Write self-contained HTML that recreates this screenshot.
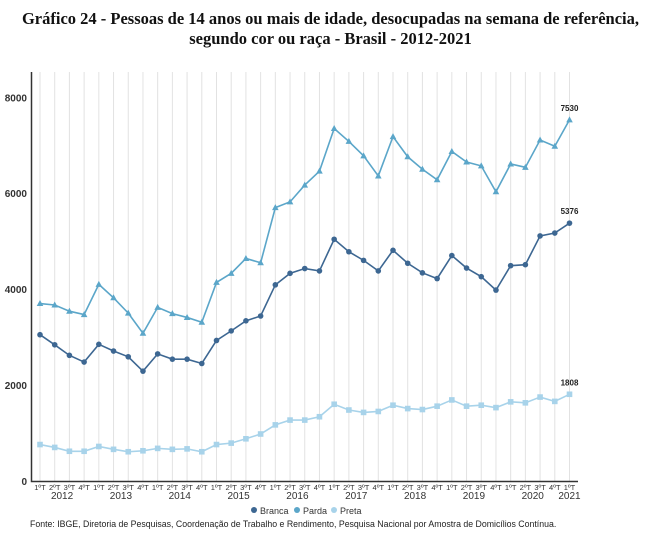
<!DOCTYPE html>
<html><head><meta charset="utf-8"><style>
body{margin:0;width:661px;height:535px;background:#fff;overflow:hidden;font-family:"Liberation Sans",sans-serif}
#title{position:absolute;left:0;top:9px;width:661px;text-align:center;font-family:"Liberation Serif",serif;font-weight:bold;font-size:16.5px;line-height:20px;color:#111}
svg{position:absolute;left:0;top:0}
</style></head><body>
<div id="title">Gráfico 24 - Pessoas de 14 anos ou mais de idade, desocupadas na semana de referência,<br>segundo cor ou raça - Brasil - 2012-2021</div>
<svg id="chart" width="661" height="535"></svg>
<script>
const years=["2012","2013","2014","2015","2016","2017","2018","2019","2020","2021"];
const quarters=["1ºT","2ºT","3ºT","4ºT"];
const yTicks=[0,2000,4000,6000,8000];
const branca=[3050,2840,2620,2480,2850,2710,2590,2290,2650,2540,2540,2450,2930,3130,3340,3440,4090,4330,4430,4380,5040,4780,4600,4380,4810,4540,4340,4220,4700,4440,4260,3980,4490,4510,5110,5170,5376];
const parda=[3700,3670,3540,3470,4100,3820,3500,3080,3620,3490,3410,3310,4140,4330,4640,4550,5700,5820,6170,6460,7350,7080,6780,6360,7180,6760,6500,6280,6870,6650,6570,6030,6610,6540,7110,6980,7530];
const preta=[760,700,620,620,720,660,610,630,680,660,670,610,760,790,880,980,1170,1270,1270,1340,1600,1480,1430,1450,1580,1510,1490,1560,1690,1560,1580,1530,1650,1630,1750,1660,1808];
const NS="http://www.w3.org/2000/svg";
const svg=document.getElementById('chart');
const n=branca.length;
const xS=i=>40+i*(569.5-40)/(n-1);
const yS=v=>481-v*(481-97.3)/8000;
function mk(t,a,p){const e=document.createElementNS(NS,t);for(const k in a)e.setAttribute(k,a[k]);(p||svg).appendChild(e);return e;}
for(let i=0;i<n;i++){
 const g=mk('line',{x1:xS(i),x2:xS(i),y1:72,y2:481,stroke:'#e2e2e2','stroke-width':1});
 
 
 const t=mk('text',{x:xS(i),y:490,'font-size':7.5,'text-anchor':'middle',fill:'#333'});
 t.textContent=quarters[i%4];
 
 
}
years.forEach((y,k)=>{
 const i0=k*4,i1=Math.min(k*4+3,n-1);
 const t=mk('text',{x:(xS(i0)+xS(i1))/2,y:499,'font-size':10,'text-anchor':'middle',fill:'#333'});
 t.textContent=y;
 
 
});
yTicks.forEach(v=>{
 const t=mk('text',{x:27,y:yS(v)+4,'font-size':10,'text-anchor':'end',fill:'#333','font-weight':'bold'});
 t.textContent=v;
 
 
});
const ax=mk('path',{d:'M31.5 72 V481.5 H578',stroke:'#333','stroke-width':1.5,fill:'none'});


function series(data,color,shape,name){
 const p=mk('polyline',{points:data.map((v,i)=>xS(i)+','+yS(v)).join(' '),fill:'none',stroke:color,'stroke-width':1.6});
 
 
 data.forEach((v,i)=>{
  const x=xS(i),y=yS(v);let m;
  if(shape==='c')m=mk('circle',{cx:x,cy:y,r:2.8,fill:color});
  else if(shape==='t')m=mk('polygon',{points:`${x},${y-3.5} ${x-3.3},${y+2.5} ${x+3.3},${y+2.5}`,fill:color});
  else m=mk('rect',{x:x-2.8,y:y-2.8,width:5.6,height:5.6,fill:color});
  
  
 });
 const l=mk('text',{x:xS(n-1),y:yS(data[n-1])-9,'font-size':8,'font-weight':'bold','text-anchor':'middle',fill:'#222'});
 l.textContent=data[n-1];
 
 
}
series(preta,'#a8d3ea','s','preta');
series(branca,'#3d6792','c','branca');
series(parda,'#5ba6c9','t','parda');
const leg=[['Branca','#3d6792',254],['Parda','#5ba6c9',297],['Preta','#a8d3ea',334]];
leg.forEach(([nm,c,x])=>{
 const g=mk('g',{});
 
 
 mk('circle',{cx:x,cy:510,r:3,fill:c},g);
 const t=mk('text',{x:x+6,y:514,'font-size':9,fill:'#333'},g);t.textContent=nm;
});
const src=mk('text',{x:30,y:527,'font-size':8.75,fill:'#222'});
src.textContent='Fonte: IBGE, Diretoria de Pesquisas, Coordenação de Trabalho e Rendimento, Pesquisa Nacional por Amostra de Domicílios Contínua.';


</script>
</body></html>
